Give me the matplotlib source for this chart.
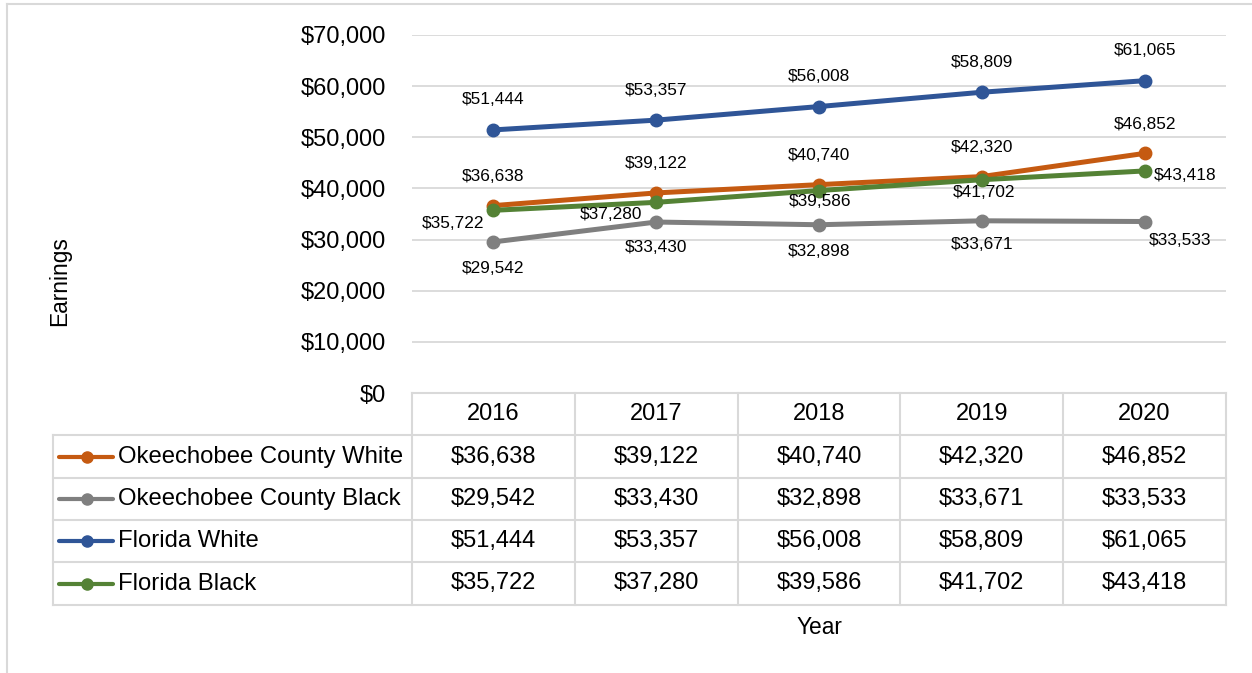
import matplotlib
matplotlib.use("Agg")
import matplotlib.pyplot as plt
import matplotlib.transforms as mtransforms
from matplotlib.lines import Line2D

plt.rcParams['font.family'] = ['Liberation Sans', 'DejaVu Sans']

# ---------------- data ----------------
years = ["2016", "2017", "2018", "2019", "2020"]
series_names = ["Okeechobee County White", "Okeechobee County Black",
                "Florida White", "Florida Black"]
okeechobee_white = [36638, 39122, 40740, 42320, 46852]
okeechobee_black = [29542, 33430, 32898, 33671, 33533]
florida_white = [51444, 53357, 56008, 58809, 61065]
florida_black = [35722, 37280, 39586, 41702, 43418]
y_ticks = [0, 10000, 20000, 30000, 40000, 50000, 60000, 70000]

series_values = [okeechobee_white, okeechobee_black, florida_white, florida_black]
colors = ["#C55A11", "#7F7F7F", "#2F5597", "#548235"]

# label placement (offset pixels dx, dy, horizontal alignment)
label_place = [
    [(0, 29, 'center')] * 5,
    [(0, -27, 'center'), (0, -25, 'center'), (0, -27, 'center'),
     (0, -24, 'center'), (35, -19, 'center')],
    [(0, 30, 'center')] * 5,
    [(-9, -13, 'right'), (-14, -12, 'right'), (1, -11, 'center'),
     (2, -13, 'center'), (9, -5, 'left')],
]

W, H = 1252, 673
fig = plt.figure(figsize=(W / 100, H / 100), dpi=100)
fig.patch.set_facecolor('white')

# overlay axes in pixel coordinates (table, borders, titles)
ov = fig.add_axes([0, 0, 1, 1], zorder=0)
ov.set_xlim(0, W)
ov.set_ylim(H, 0)
ov.axis('off')

# main chart axes
ax_left, ax_right, ax_top, ax_bottom = 412, 1226, 35, 393
ax = fig.add_axes([ax_left / W, (H - ax_bottom) / H,
                   (ax_right - ax_left) / W, (ax_bottom - ax_top) / H], zorder=2)
ax.patch.set_alpha(0)
x = list(range(len(years)))
ax.set_xlim(-0.5, len(years) - 0.5)
ax.set_ylim(0, 70000)
ax.set_yticks(y_ticks)
ax.set_yticklabels([f"${v:,.0f}" for v in y_ticks], fontsize=17)
ax.tick_params(axis='y', length=0, pad=19)
ax.set_xticks([])
for s in ax.spines.values():
    s.set_visible(False)
ax.grid(axis='y', color='#D9D9D9', linewidth=1.3)
ax.set_axisbelow(True)

for vals, c, places in zip(series_values, colors, label_place):
    ax.plot(x, vals, color=c, linewidth=3.6, marker='o', markersize=9,
            solid_capstyle='round', clip_on=False, zorder=3)
    for xi, v, (dx, dy, ha) in zip(x, vals, places):
        ax.annotate(f"${v:,.0f}", (xi, v), xytext=(dx, dy),
                    textcoords='offset pixels', ha=ha, va='center',
                    fontsize=12.4, color='#000000', zorder=5)

# outer chart border
ov.plot([7, 7], [4, H], color='#D9D9D9', linewidth=1.5)
ov.plot([7, W], [4, 4], color='#D9D9D9', linewidth=1.5)

# ---------------- data table ----------------
grid_c = '#D9D9D9'
tlw = 1.5
row_edges = [393, 435, 478, 520, 562, 605]
tbl_left = 53
blend = mtransforms.blended_transform_factory(ax.transData, ov.transData)

col_edges = [i - 0.5 for i in range(len(years) + 1)]
for ce in col_edges:
    ov.add_line(Line2D([ce, ce], [row_edges[0], row_edges[-1]],
                       transform=blend, color=grid_c, linewidth=tlw))
ov.add_line(Line2D([col_edges[0], col_edges[-1]], [row_edges[0], row_edges[0]],
                   transform=blend, color=grid_c, linewidth=tlw))
for re in row_edges[1:]:
    ov.plot([tbl_left, ax_right], [re, re], color=grid_c, linewidth=tlw)
ov.plot([tbl_left, tbl_left], [row_edges[1], row_edges[-1]], color=grid_c, linewidth=tlw)

hy = (row_edges[0] + row_edges[1]) / 2
for xi, yr in zip(x, years):
    ov.text(xi, hy, yr, transform=blend, ha='center', va='center', fontsize=17)

for r, (name, vals, c) in enumerate(zip(series_names, series_values, colors)):
    cy = (row_edges[r + 1] + row_edges[r + 2]) / 2
    ov.plot([59, 113], [cy, cy], color=c, linewidth=3.0, solid_capstyle='round')
    ov.plot([87], [cy], marker='o', markersize=8, color=c)
    ov.text(118, cy, name, ha='left', va='center', fontsize=17.2)
    for xi, v in zip(x, vals):
        ov.text(xi, cy, f"${v:,.0f}", transform=blend, ha='center',
                va='center', fontsize=17)

ov.text(60, 281, "Earnings", rotation=90, ha='center', va='center', fontsize=16.4)
ov.text(819, 627, "Year", ha='center', va='center', fontsize=16.4)

fig.savefig("out.png", dpi=100)
